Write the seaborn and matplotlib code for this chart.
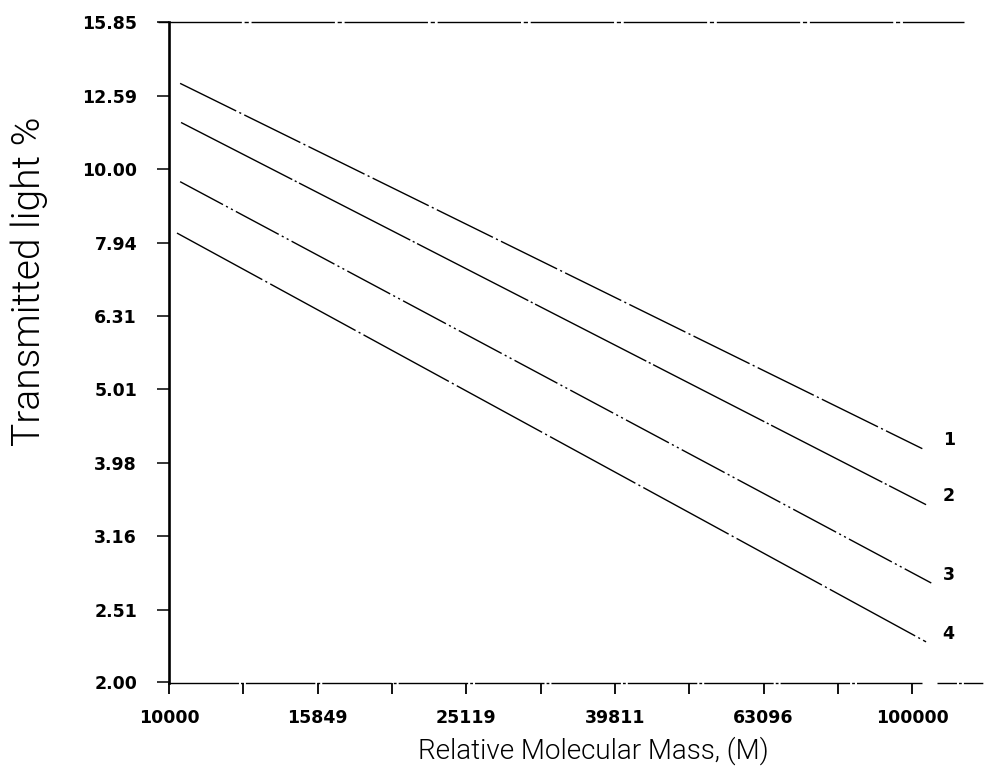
import numpy as np
import pandas as pd
import seaborn as sns
import matplotlib
matplotlib.use("Agg")
import matplotlib.pyplot as plt

# Curve identifiers and their end points (relative molecular mass, transmitted light %)
curve_ids = ["1", "2", "3", "4"]
mass_start = [10350, 10380, 10350, 10250]
mass_end = [103200, 104400, 106100, 104400]
light_start = [13.08, 11.57, 9.61, 8.18]
light_end = [4.16, 3.49, 2.73, 2.27]

# Axis ticks (log-spaced) and their printed labels
x_ticks = [10000, 12589, 15849, 19953, 25119, 31623, 39811, 50119, 63096, 79433, 100000]
x_tick_labels = ["10000", "", "15849", "", "25119", "", "39811", "", "63096", "", "100000"]
y_ticks = [2.00, 2.51, 3.16, 3.98, 5.01, 6.31, 7.94, 10.00, 12.59, 15.85]
y_tick_labels = ["2.00", "2.51", "3.16", "3.98", "5.01", "6.31", "7.94", "10.00", "12.59", "15.85"]

x_label = "Relative Molecular Mass, (M)"
y_label = "Transmitted light %"

rows = []
for cid, m0, m1, t0, t1 in zip(curve_ids, mass_start, mass_end, light_start, light_end):
    rows.append({"curve": cid, "mass": m0, "light": t0})
    rows.append({"curve": cid, "mass": m1, "light": t1})
df = pd.DataFrame(rows)

sns.set_style("ticks")
plt.rcParams["font.family"] = ["DejaVu Sans"]

fig = plt.figure(figsize=(9.84, 7.81), dpi=100)
ax = fig.add_axes([169 / 984, 1 - 683 / 781, (985 - 169) / 984, (683 - 22) / 781])

line_dashes = {
    "1": (45, 2.5, 1.5, 2.5),
    "2": (90, 2, 1.5, 2),
    "3": (35, 2.5, 1.5, 2.5, 1.5, 2.5),
    "4": (70, 2.5, 1.5, 2.5),
}
sns.lineplot(
    data=df, x="mass", y="light", hue="curve", style="curve",
    palette={c: "black" for c in curve_ids}, dashes=line_dashes,
    estimator=None, sort=False, linewidth=1.0, legend=False, ax=ax,
)

ax.set_xscale("log")
ax.set_yscale("log")
x_lo, x_hi = 10000, 10 ** 5.098
y_lo, y_hi = 10 ** 0.3, 15.855
ax.set_xlim(x_lo, x_hi)
ax.set_ylim(y_lo, y_hi)

ax.xaxis.set_major_locator(matplotlib.ticker.FixedLocator(x_ticks))
ax.xaxis.set_major_formatter(matplotlib.ticker.FixedFormatter(x_tick_labels))
ax.xaxis.set_minor_locator(matplotlib.ticker.NullLocator())
ax.yaxis.set_major_locator(matplotlib.ticker.FixedLocator(y_ticks))
ax.yaxis.set_major_formatter(matplotlib.ticker.FixedFormatter(y_tick_labels))
ax.yaxis.set_minor_locator(matplotlib.ticker.NullLocator())

ax.tick_params(axis="x", direction="out", length=8, width=1.3, pad=11, colors="black",
               labelsize=12.5)
ax.tick_params(axis="y", direction="out", length=9, width=1.1, pad=14, colors="black",
               labelsize=12.5)
for lab in ax.get_xticklabels() + ax.get_yticklabels():
    lab.set_fontweight("bold")

for side in ("top", "right", "bottom"):
    ax.spines[side].set_visible(False)
ax.spines["left"].set_linewidth(1.9)
ax.spines["left"].set_color("black")

# Frame lines drawn by the plotter: bottom baseline (with a small break) and top rule
ax.hlines(y_lo, x_lo, 10 ** 5.0135, colors="black", linewidth=1.0,
          linestyles=[(0, (50, 1.5, 2, 1.5))], clip_on=False)
ax.hlines(y_lo, 10 ** 5.034, x_hi, colors="black", linewidth=1.0,
          linestyles=[(0, (14, 1.5, 2, 1.5))], clip_on=False)
ax.hlines(y_hi, 10 ** 3.985, 10 ** 5.07, colors="black", linewidth=1.0,
          linestyles=[(0, (60, 2, 3, 2))], clip_on=False)

# Curve numbers beside the line ends
for cid, t1 in zip(curve_ids, light_end):
    ax.annotate(cid, xy=(112000, t1), xytext=(0, 6), textcoords="offset points",
                ha="center", va="center", fontsize=12.5, fontweight="bold", color="black")

title_font = dict(family=["Roboto", "DejaVu Sans"], fontweight=300, color="black")
ax.set_xlabel(x_label, fontsize=20, **title_font)
ax.xaxis.set_label_coords(0.52, -0.081)
ax.set_ylabel(y_label, fontsize=28, **title_font)
ax.yaxis.label.set_va("center")
ax.yaxis.set_label_coords(-0.1716, 0.607)

fig.savefig("out.png", dpi=100, facecolor="white")
